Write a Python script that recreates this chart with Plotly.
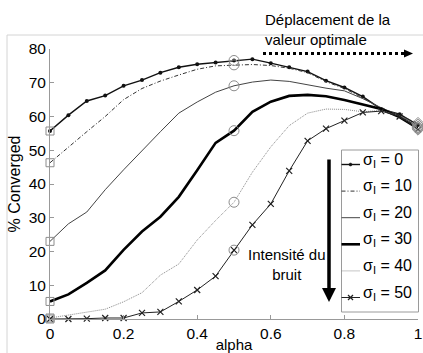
import plotly.graph_objects as go

alpha = [0, 0.05, 0.1, 0.15, 0.2, 0.25, 0.3, 0.35, 0.4, 0.45, 0.5,
         0.55, 0.6, 0.65, 0.7, 0.75, 0.8, 0.85, 0.9, 0.95, 1.0]

s0 = [55.7, 60.4, 64.6, 66.2, 69.1, 70.8, 73.0, 74.6, 75.5, 76.0, 76.6,
      77.0, 75.8, 74.6, 73.3, 70.6, 68.6, 65.9, 62.2, 60.7, 57.5]
s10 = [46.3, 51.0, 55.5, 60.0, 65.0, 68.3, 70.5, 72.3, 74.0, 75.0, 75.3,
       75.4, 75.1, 74.3, 73.0, 70.3, 68.3, 65.5, 62.3, 60.3, 58.0]
s20 = [23.0, 28.2, 31.7, 38.3, 44.2, 50.0, 55.5, 61.0, 64.3, 67.2, 69.1,
       70.2, 70.8, 70.4, 69.3, 68.4, 67.6, 65.3, 62.6, 60.3, 57.0]
s30 = [5.2, 7.3, 10.7, 14.4, 20.5, 25.9, 30.3, 36.2, 44.1, 52.2, 55.8,
       61.4, 64.4, 66.1, 66.4, 66.0, 64.9, 63.6, 62.2, 59.8, 56.5]
s40 = [0.3, 1.2, 2.2, 2.9, 5.1, 7.8, 13.0, 16.3, 23.4, 29.2, 34.6,
       43.5, 51.0, 57.3, 61.0, 62.2, 62.1, 61.4, 61.8, 60.2, 56.8]
s50 = [0.0, 0.0, 0.1, 0.3, 0.3, 1.8, 2.1, 5.2, 8.6, 12.7, 20.4,
       27.9, 34.1, 43.9, 52.8, 56.4, 58.8, 61.2, 61.6, 60.0, 56.2]

sigmas = ["0", "10", "20", "30", "40", "50"]
series = [s0, s10, s20, s30, s40, s50]

FONT = "Arial, Liberation Sans, sans-serif"

line_styles = [
    dict(color="#111", width=1.4),
    dict(color="#333", width=1, dash="4px,2px,1px,2px"),
    dict(color="#444", width=1),
    dict(color="#000", width=2.6),
    dict(color="#8a8a8a", width=1, dash="1px,1px"),
    dict(color="#222", width=1),
]
marker_kinds = ["dot", None, None, None, None, "x"]

fig = go.Figure()
for i, (sg, ys) in enumerate(zip(sigmas, series)):
    if marker_kinds[i] == "dot":
        kw = dict(mode="lines+markers", marker=dict(symbol="circle", size=4, color="#111"))
    elif marker_kinds[i] == "x":
        kw = dict(mode="lines+markers",
                  marker=dict(symbol="x-thin", size=6, line=dict(color="#222", width=1.2)))
    else:
        kw = dict(mode="lines")
    fig.add_trace(go.Scatter(x=alpha, y=ys, name="σI = " + sg, line=line_styles[i],
                             showlegend=False, cliponaxis=False, **kw))

# highlight markers at alpha = 0, 0.5, 1
hl_gray = "#8c8c8c"
for idx, sym, sz in [(0, "square-open", 8), (10, "circle-open", 10), (20, "diamond-open", 9)]:
    fig.add_trace(go.Scatter(
        x=[alpha[idx]] * len(series), y=[s[idx] for s in series], mode="markers",
        marker=dict(symbol=sym, size=sz, color=hl_gray, line=dict(width=1)),
        showlegend=False, cliponaxis=False, hoverinfo="skip"))

L, R, T, B = 50, 5, 49, 34
W, H = 423, 353
pw, ph = W - L - R, H - T - B


def px(xp):
    return (xp - L) / pw


def py(yp):
    return (H - B - yp) / ph


shapes = [
    # light gray frame
    dict(type="line", xref="paper", yref="paper", x0=px(7), x1=px(W + 2), y0=py(35), y1=py(35),
         line=dict(color="#d4d4d4", width=1)),
    dict(type="line", xref="paper", yref="paper", x0=px(7), x1=px(7), y0=py(35), y1=py(H + 2),
         line=dict(color="#d4d4d4", width=1)),
    # dotted horizontal arrow
    dict(type="line", xref="paper", yref="paper", x0=px(263), x1=px(404), y0=py(53.5), y1=py(53.5),
         line=dict(color="#000", width=3, dash="dot")),
    dict(type="path", xref="paper", yref="paper",
         path=f"M {px(404)},{py(49.5)} L {px(413)},{py(53.5)} L {px(404)},{py(57.5)} Z",
         fillcolor="#000", line=dict(color="#000", width=0)),
    # legend box
    dict(type="rect", xref="paper", yref="paper", x0=px(341.5), x1=px(418.5), y0=py(150), y1=py(312),
         line=dict(color="#9a9a9a", width=1), fillcolor="white", layer="above"),
]

annotations = [
    dict(text="Déplacement de la<br>valeur optimale", x=px(263), y=py(29.5),
         xref="paper", yref="paper", xanchor="left", yanchor="middle", align="left",
         showarrow=False, font=dict(family=FONT, size=15, color="#000")),
    dict(text="Intensité du<br>bruit", x=px(287), y=py(264.5), xref="paper", yref="paper",
         xanchor="center", yanchor="middle", align="center", showarrow=False,
         font=dict(family=FONT, size=15, color="#000")),
    dict(text="", x=px(329), y=py(302), xref="paper", yref="paper",
         ax=0, ay=-(302 - 158), axref="pixel", ayref="pixel",
         showarrow=True, arrowhead=2, arrowsize=0.8, arrowwidth=3.5, arrowcolor="#000"),
]

# legend entries (drawn above the box)
row0, step = 164.5, 26.6
for i, sg in enumerate(sigmas):
    yc = row0 + step * i
    shapes.append(dict(type="line", xref="paper", yref="paper", x0=px(341.5), x1=px(360),
                       y0=py(yc), y1=py(yc), line=line_styles[i], layer="above"))
    if marker_kinds[i] == "dot":
        shapes.append(dict(type="circle", xref="paper", yref="paper",
                           x0=px(349), x1=px(352), y0=py(yc - 1.5), y1=py(yc + 1.5),
                           fillcolor="#111", line=dict(color="#111", width=0.5), layer="above"))
    elif marker_kinds[i] == "x":
        for d in (1, -1):
            shapes.append(dict(type="line", xref="paper", yref="paper",
                               x0=px(348), x1=px(353), y0=py(yc - 2.5 * d), y1=py(yc + 2.5 * d),
                               line=dict(color="#222", width=1.2), layer="above"))
    annotations.append(dict(text="σ<sub>I</sub> = " + sg, x=px(361), y=py(yc - 4.5),
                            xref="paper", yref="paper", xanchor="left", yanchor="middle",
                            showarrow=False, font=dict(family=FONT, size=16, color="#000")))

fig.update_layout(
    width=W, height=H,
    margin=dict(l=L, r=R, t=T, b=B, autoexpand=False),
    paper_bgcolor="white", plot_bgcolor="white",
    font=dict(family=FONT, size=15, color="#000"),
    showlegend=False,
    shapes=shapes,
    annotations=annotations,
)
fig.update_xaxes(range=[0, 1], tickvals=[0, 0.2, 0.4, 0.6, 0.8, 1],
                 ticktext=["0", "0.2", "0.4", "0.6", "0.8", "1"],
                 showline=True, linecolor="#999", linewidth=1,
                 ticks="inside", ticklen=4, tickcolor="#999", automargin=False,
                 showgrid=False, zeroline=False, tickfont=dict(size=15.5),
                 title=dict(text="alpha", standoff=10, font=dict(size=15)))
fig.update_yaxes(range=[0, 80], tickvals=list(range(0, 81, 10)),
                 showline=True, linecolor="#999", linewidth=1,
                 ticks="inside", ticklen=4, tickcolor="#999", automargin=False,
                 showgrid=False, zeroline=False, tickfont=dict(size=15.5),
                 title=dict(text="% Converged", standoff=4, font=dict(size=16)))

fig.write_html("out.html")
